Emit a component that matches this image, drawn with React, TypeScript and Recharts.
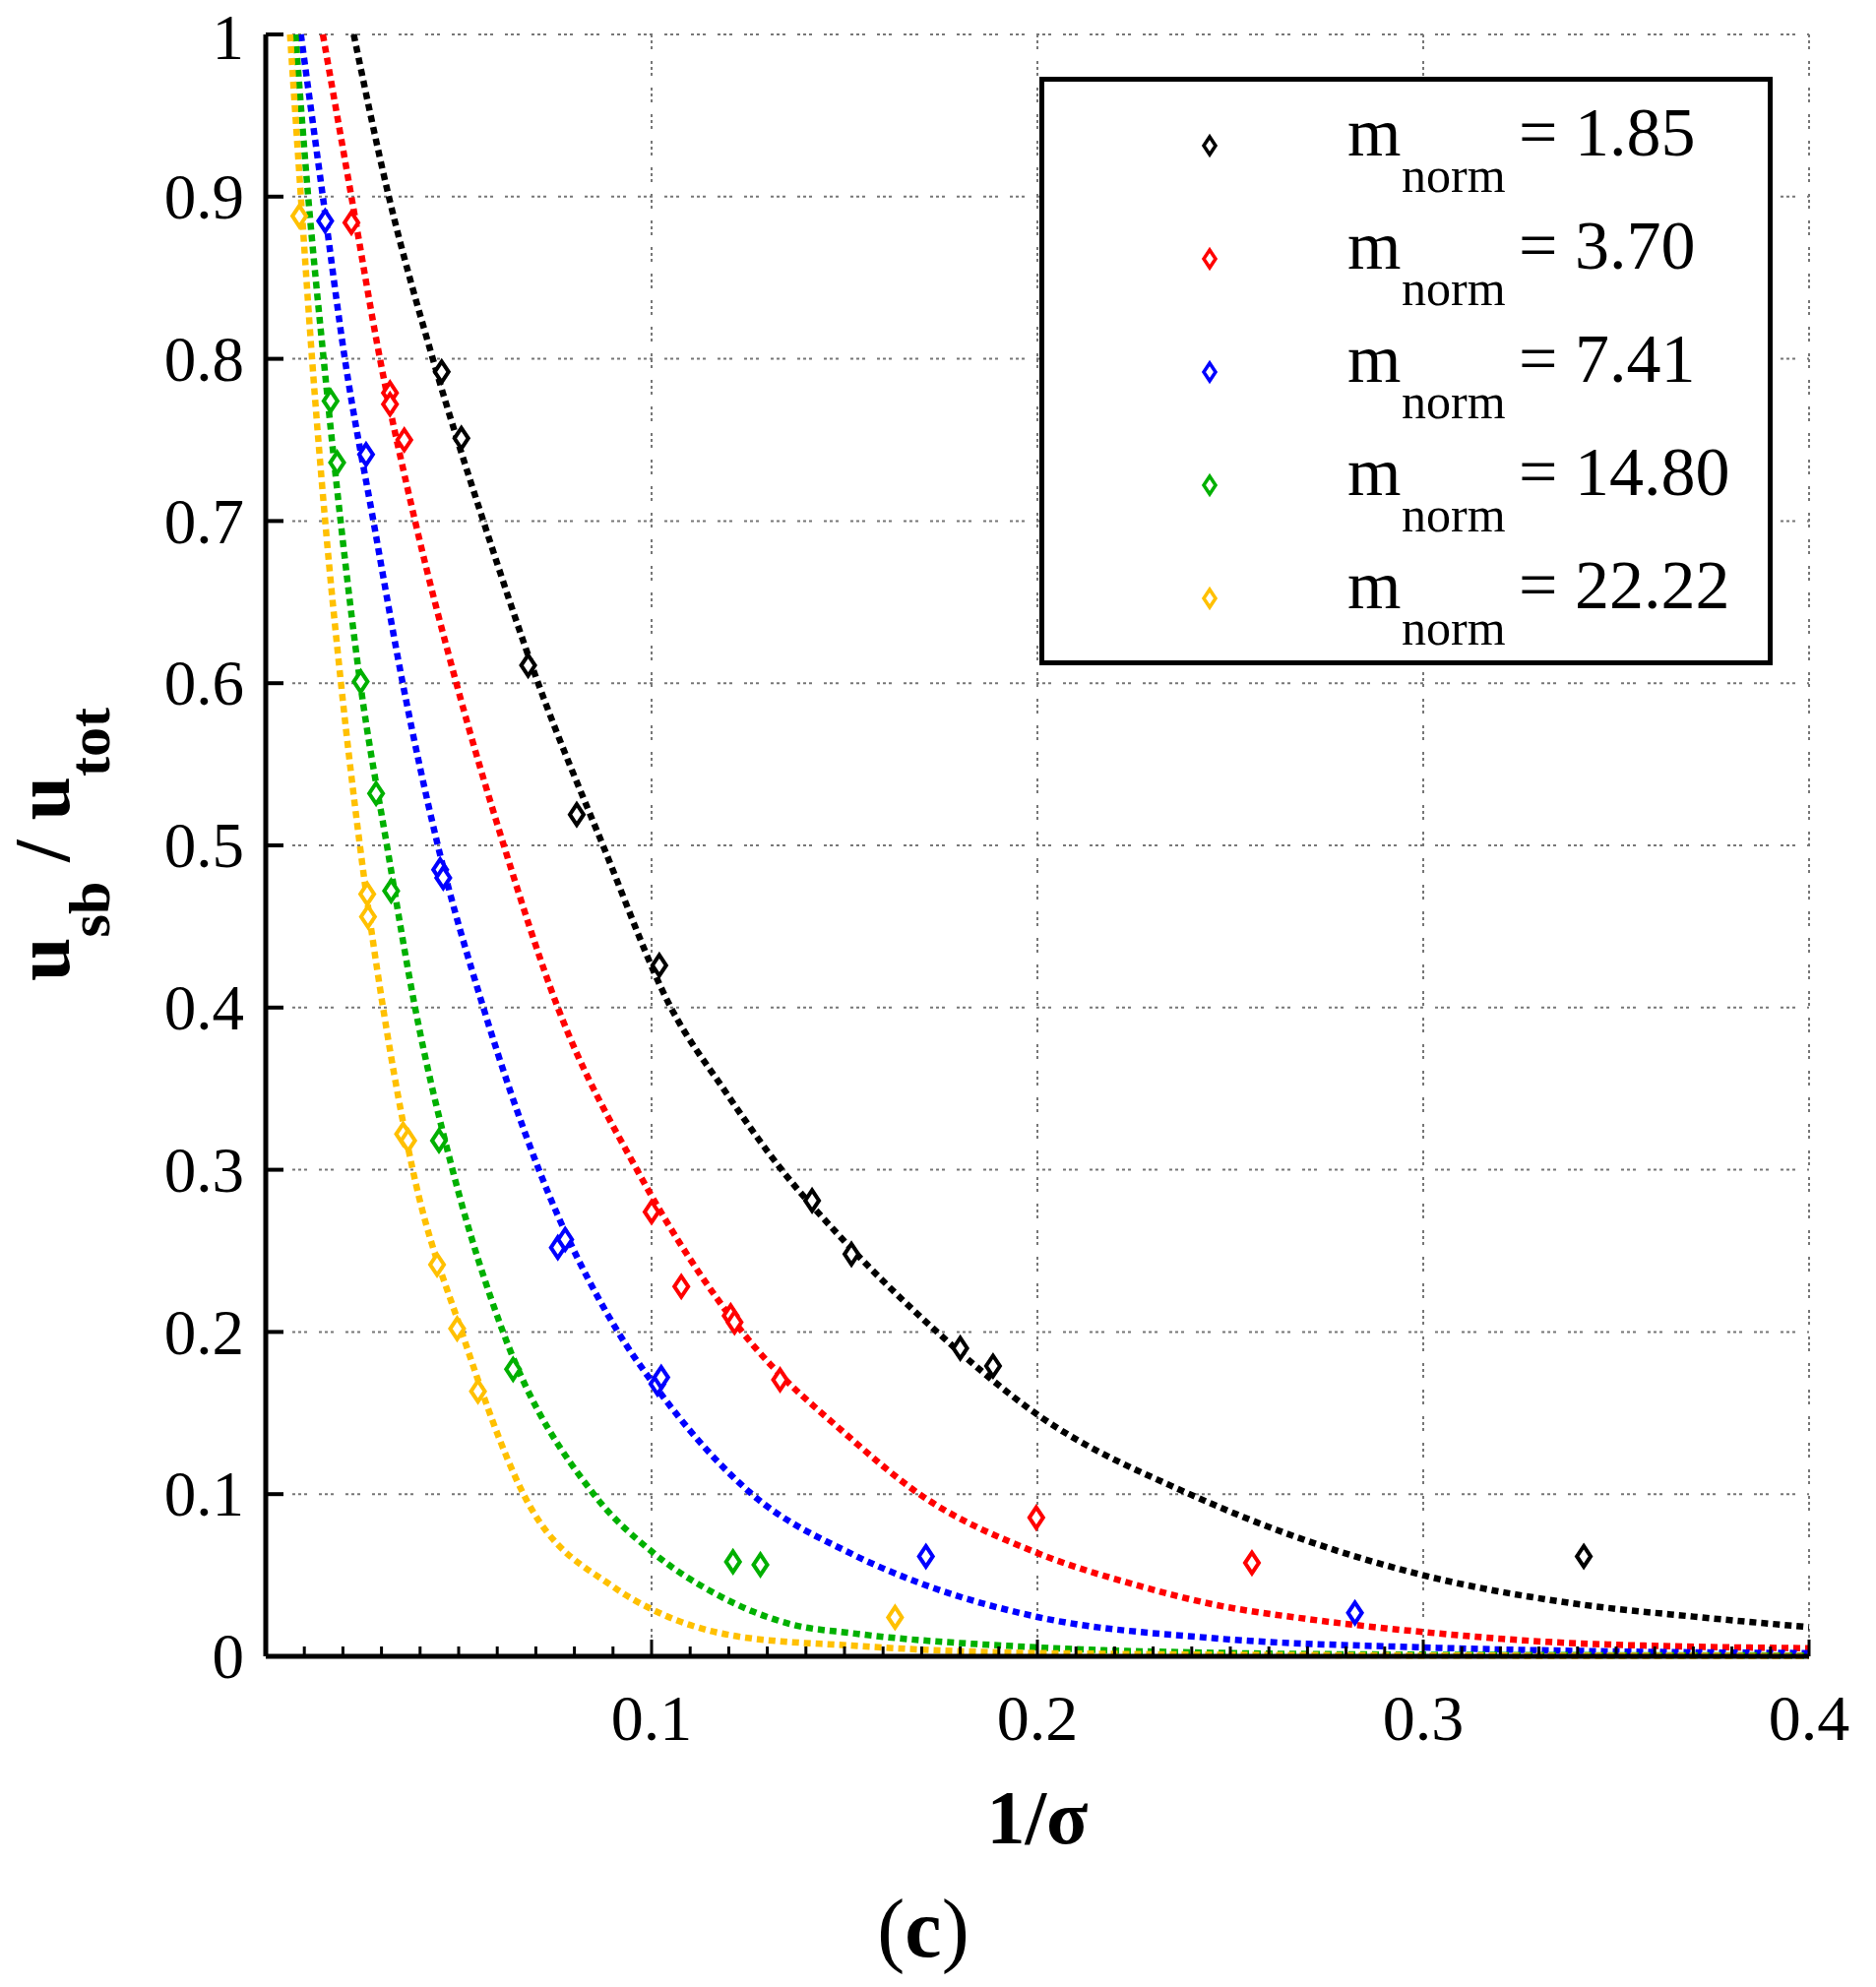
import {
  CartesianGrid,
  ComposedChart,
  Legend,
  Line,
  Scatter,
  XAxis,
  YAxis,
} from "recharts";

const W = 1906;
const H = 2019;
const FONT = "'Liberation Serif', 'Times New Roman', Times, serif";

// legend labels and colours
const mNormLabels = ["1.85", "3.70", "7.41", "14.80", "22.22"];
const seriesColors = ["#000000", "#ff0000", "#0000ff", "#00b000", "#ffc000"];

// axis ticks
const majorXTicks = [0.1, 0.2, 0.3, 0.4];
const minorXTicks = Array.from({ length: 40 }, (_, i) => Number(((i + 1) / 100).toFixed(2)));
const yTicks = [0, 0.1, 0.2, 0.3, 0.4, 0.5, 0.6, 0.7, 0.8, 0.9, 1];
const gridY = [0.1, 0.2, 0.3, 0.4, 0.5, 0.6, 0.7, 0.8, 0.9, 1];

// fitted curves
const fitX185 = [0.0228, 0.0319, 0.0433, 0.0564, 0.0706, 0.0874, 0.105, 0.1186, 0.1337, 0.148, 0.174, 0.2, 0.2388, 0.2554, 0.3, 0.3408, 0.37, 0.4];
const fitY185 = [1.0, 0.9, 0.8, 0.7, 0.6, 0.5, 0.4, 0.35, 0.3, 0.261, 0.2, 0.149, 0.1007, 0.084, 0.05, 0.032, 0.0245, 0.018];

const fitX370 = [0.0148, 0.0222, 0.0296, 0.0387, 0.0494, 0.0617, 0.0757, 0.0962, 0.1235, 0.1518, 0.169, 0.2, 0.226, 0.2456, 0.27, 0.3, 0.34, 0.4];
const fitY370 = [1.0, 0.9, 0.8, 0.7, 0.6, 0.5, 0.4, 0.3, 0.2, 0.134, 0.1007, 0.0637, 0.0437, 0.032, 0.023, 0.015, 0.008, 0.005];

const fitX741 = [0.0091, 0.0148, 0.0205, 0.0279, 0.0355, 0.0446, 0.0564, 0.0708, 0.0913, 0.1005, 0.126, 0.152, 0.1724, 0.2, 0.2456, 0.3, 0.35, 0.4];
const fitY741 = [1.0, 0.9, 0.8, 0.7, 0.6, 0.5, 0.4, 0.3, 0.2, 0.168, 0.1, 0.063, 0.0427, 0.0243, 0.0112, 0.0055, 0.003, 0.002];

const fitX1480 = [0.0077, 0.011, 0.015, 0.0194, 0.0245, 0.0314, 0.0387, 0.0484, 0.0615, 0.085, 0.1005, 0.117, 0.1368, 0.1518, 0.2, 0.25, 0.3, 0.4];
const fitY1480 = [1.0, 0.9, 0.8, 0.7, 0.6, 0.5, 0.4, 0.3, 0.2, 0.1, 0.0637, 0.038, 0.0194, 0.0143, 0.0055, 0.002, 0.001, 0.0005];

const fitX2222 = [0.0063, 0.0091, 0.012, 0.0154, 0.0195, 0.0244, 0.0304, 0.0381, 0.0508, 0.0668, 0.0903, 0.1005, 0.122, 0.1518, 0.2, 0.3, 0.4];
const fitY2222 = [1.0, 0.9, 0.8, 0.7, 0.6, 0.5, 0.4, 0.3, 0.2, 0.1, 0.0425, 0.0285, 0.0124, 0.0066, 0.002, 0.0005, 0.0002];

// measured points
const ptsX185 = [0.0456, 0.0507, 0.068, 0.0806, 0.102, 0.1416, 0.1518, 0.18, 0.1885, 0.3416];
const ptsY185 = [0.792, 0.751, 0.611, 0.519, 0.426, 0.281, 0.248, 0.19, 0.179, 0.0616];

const ptsX370 = [0.0222, 0.0322, 0.0322, 0.0359, 0.1, 0.1077, 0.1205, 0.1215, 0.1333, 0.1997, 0.2556];
const ptsY370 = [0.884, 0.779, 0.772, 0.75, 0.274, 0.228, 0.21, 0.206, 0.1705, 0.0855, 0.0576];

const ptsX741 = [0.0154, 0.026, 0.0452, 0.046, 0.0757, 0.0776, 0.1015, 0.1025, 0.1711, 0.2823];
const ptsY741 = [0.885, 0.741, 0.485, 0.48, 0.252, 0.257, 0.168, 0.172, 0.0616, 0.0268];

const ptsX1480 = [0.0168, 0.0185, 0.0246, 0.0286, 0.0325, 0.0449, 0.0641, 0.1211, 0.1282];
const ptsY1480 = [0.774, 0.736, 0.601, 0.532, 0.472, 0.318, 0.177, 0.0583, 0.0565];

const ptsX2222 = [0.0087, 0.0263, 0.0265, 0.0356, 0.0369, 0.0444, 0.0496, 0.055, 0.1631];
const ptsY2222 = [0.888, 0.47, 0.456, 0.322, 0.318, 0.2415, 0.202, 0.1634, 0.024];

const zip = (xs: number[], ys: number[]) => xs.map((x, i) => ({ x, y: ys[i] }));

const series = [
  { fit: zip(fitX185, fitY185), pts: zip(ptsX185, ptsY185) },
  { fit: zip(fitX370, fitY370), pts: zip(ptsX370, ptsY370) },
  { fit: zip(fitX741, fitY741), pts: zip(ptsX741, ptsY741) },
  { fit: zip(fitX1480, fitY1480), pts: zip(ptsX1480, ptsY1480) },
  { fit: zip(fitX2222, fitY2222), pts: zip(ptsX2222, ptsY2222) },
].map((s, i) => ({ ...s, name: mNormLabels[i], color: seriesColors[i] }));

const diamondPath = (cx: number, cy: number, hw: number, hh: number) =>
  `M${cx},${cy - hh} L${cx + hw},${cy} L${cx},${cy + hh} L${cx - hw},${cy} Z`;

const renderXTick = (props: any) => {
  const { x, y, payload } = props;
  const v = payload.value;
  const major = majorXTicks.some((t) => Math.abs(t - v) < 1e-6);
  return (
    <g>
      <line x1={x} x2={x} y1={y} y2={y - (major ? 17 : 10)} stroke="#000" strokeWidth={3} />
      {major && (
        <text x={x} y={y + 85} textAnchor="middle" fontSize={66} fontFamily={FONT} fill="#000">
          {v.toFixed(1)}
        </text>
      )}
    </g>
  );
};

const renderYTick = (props: any) => {
  const { x, y, payload } = props;
  const v = payload.value;
  const label = v === 0 || v === 1 ? String(v) : v.toFixed(1);
  // the top label sits a touch lower so it stays inside the page
  const ty = v === 1 ? y + 3 : y;
  return (
    <g>
      <line x1={x} x2={x + 18} y1={y} y2={y} stroke="#000" strokeWidth={4} />
      <text x={x - 22} y={ty} dy="0.34em" textAnchor="end" fontSize={65} fontFamily={FONT} fill="#000">
        {label}
      </text>
    </g>
  );
};

const renderXTitle = () => (
  <g>
    <text x={1054} y={1873} textAnchor="middle" fontSize={78} fontWeight="bold" fontFamily={FONT} fill="#000">
      1/σ
    </text>
    <text x={938} y={1988} textAnchor="middle" fontSize={84} fontFamily={FONT} fill="#000">
      (<tspan fontWeight="bold">c</tspan>)
    </text>
  </g>
);

const renderYTitle = () => (
  <text
    transform="translate(70, 858) rotate(-90)"
    textAnchor="middle"
    fontSize={80}
    fontWeight="bold"
    fontFamily={FONT}
    fill="#000"
  >
    u
    <tspan fontSize={60} dy={41}>sb</tspan>
    <tspan dy={-41}> / u</tspan>
    <tspan fontSize={60} dy={41}>tot</tspan>
  </text>
);

const LegendBox = () => (
  <svg width={745} height={598} style={{ display: "block" }}>
    <rect x={2.5} y={2.5} width={740} height={593} fill="#fff" stroke="#000" strokeWidth={5} />
    {series.map((s, i) => {
      const cy = 70 + i * 115;
      return (
        <g key={s.name} fontFamily={FONT} fill="#000">
          <path d={diamondPath(173, cy, 6, 9)} fill="#fff" stroke={s.color} strokeWidth={3.5} />
          <text x={313} y={cy + 10} fontSize={70}>m</text>
          <text x={368} y={cy + 47} fontSize={50}>norm</text>
          <text x={487} y={cy + 10} fontSize={70}>= {s.name}</text>
        </g>
      );
    })}
  </svg>
);

export default function App() {
  return (
    <div style={{ position: "absolute", left: 0, top: 0, width: W, height: H, background: "#fff" }}>
      <ComposedChart width={W} height={H} margin={{ top: 35, right: 68, bottom: 236, left: 170 }}>
        <CartesianGrid
          horizontalValues={gridY}
          verticalValues={majorXTicks}
          stroke="#777"
          strokeWidth={2}
          strokeDasharray="3 3 3 3 3 12"
        />
        <XAxis
          type="number"
          dataKey="x"
          domain={[0, 0.4]}
          ticks={minorXTicks}
          interval={0}
          tickLine={false}
          tickSize={0}
          tickMargin={0}
          tick={renderXTick}
          axisLine={{ stroke: "#000", strokeWidth: 5 }}
          height={100}
          label={renderXTitle}
        />
        <YAxis
          type="number"
          dataKey="y"
          domain={[0, 1]}
          ticks={yTicks}
          interval={0}
          tickLine={false}
          tickSize={0}
          tickMargin={0}
          tick={renderYTick}
          axisLine={{ stroke: "#000", strokeWidth: 5 }}
          width={100}
          label={renderYTitle}
        />
        {series.map((s) => (
          <Line
            key={"fit-" + s.name}
            data={s.fit}
            dataKey="y"
            type="monotone"
            stroke={s.color}
            strokeWidth={6.5}
            strokeDasharray="7 5"
            dot={false}
            activeDot={false}
            legendType="none"
            isAnimationActive={false}
          />
        ))}
        {series.map((s) => (
          <Scatter
            key={"pts-" + s.name}
            data={s.pts}
            dataKey="y"
            legendType="none"
            isAnimationActive={false}
            shape={(p: any) => (
              <path d={diamondPath(p.cx, p.cy, 7, 10.5)} fill="#fff" stroke={s.color} strokeWidth={4} />
            )}
          />
        ))}
        <Legend
          layout="vertical"
          align="center"
          verticalAlign="middle"
          wrapperStyle={{ position: "absolute", left: 1056, top: 78, width: 745, height: 598 }}
          content={() => <LegendBox />}
        />
      </ComposedChart>
    </div>
  );
}
